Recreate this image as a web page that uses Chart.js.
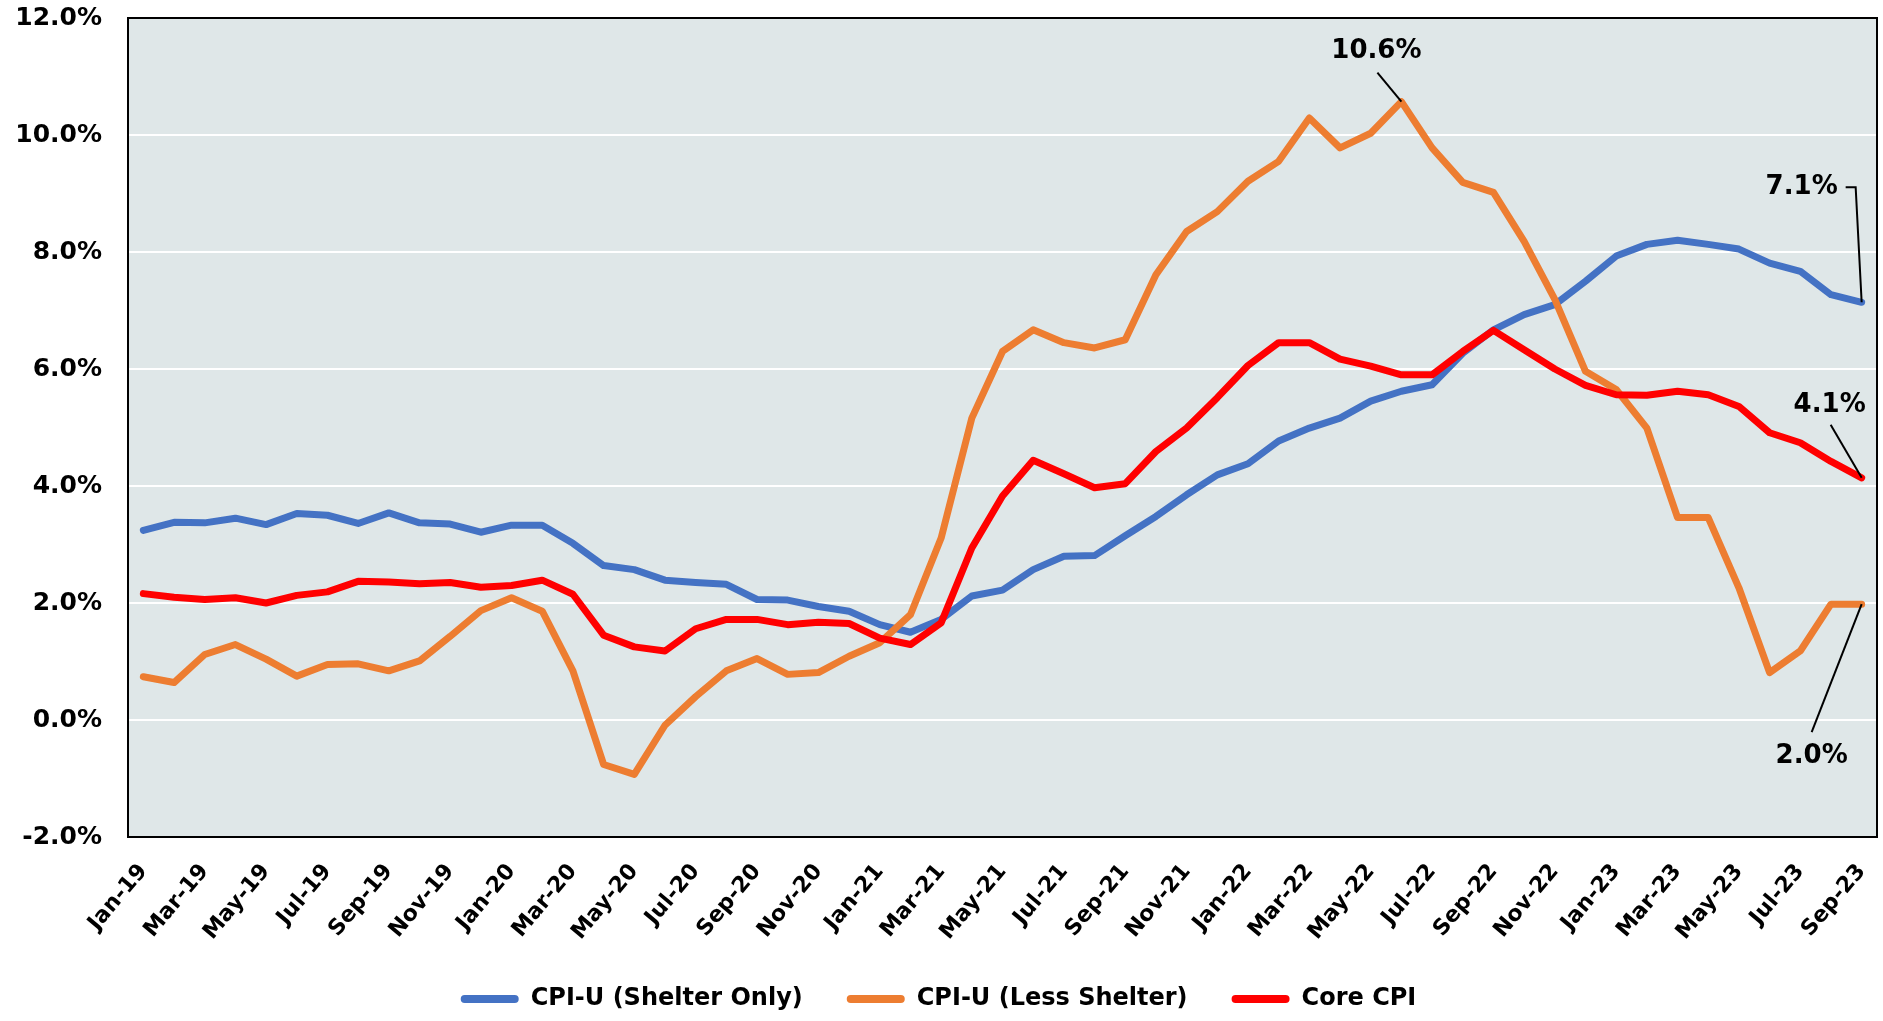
<!DOCTYPE html>
<html lang="en">
<head>
    <meta charset="UTF-8">
    <title>CPI-U Shelter vs Less Shelter vs Core CPI</title>
    <script src="https://cdn.jsdelivr.net/npm/chart.js"></script>
    <style>
        body {
            margin: 0;
            background: #ffffff;
        }
        .wrap {
            width: 1883px;
            height: 1021px;
            position: relative;
        }
    </style>
</head>
<body>
    <div class="wrap">
        <canvas id="cpiChart"></canvas>
    </div>

    <script>
        const months = [
            'Jan-19', 'Feb-19', 'Mar-19', 'Apr-19', 'May-19', 'Jun-19', 'Jul-19', 'Aug-19', 'Sep-19', 'Oct-19', 'Nov-19', 'Dec-19',
            'Jan-20', 'Feb-20', 'Mar-20', 'Apr-20', 'May-20', 'Jun-20', 'Jul-20', 'Aug-20', 'Sep-20', 'Oct-20', 'Nov-20', 'Dec-20',
            'Jan-21', 'Feb-21', 'Mar-21', 'Apr-21', 'May-21', 'Jun-21', 'Jul-21', 'Aug-21', 'Sep-21', 'Oct-21', 'Nov-21', 'Dec-21',
            'Jan-22', 'Feb-22', 'Mar-22', 'Apr-22', 'May-22', 'Jun-22', 'Jul-22', 'Aug-22', 'Sep-22', 'Oct-22', 'Nov-22', 'Dec-22',
            'Jan-23', 'Feb-23', 'Mar-23', 'Apr-23', 'May-23', 'Jun-23', 'Jul-23', 'Aug-23', 'Sep-23'
        ];

        // year-over-year % change
        const shelterOnly = [
            3.24, 3.38, 3.37, 3.45, 3.34, 3.53, 3.50, 3.36, 3.54, 3.37, 3.35, 3.21,
            3.33, 3.33, 3.02, 2.64, 2.57, 2.39, 2.35, 2.32, 2.06, 2.05, 1.94, 1.86,
            1.63, 1.50, 1.72, 2.12, 2.22, 2.57, 2.80, 2.81, 3.15, 3.48, 3.85, 4.19,
            4.38, 4.77, 4.99, 5.16, 5.45, 5.62, 5.73, 6.27, 6.67, 6.93, 7.10, 7.50,
            7.93, 8.13, 8.20, 8.13, 8.05, 7.81, 7.67, 7.27, 7.14
        ];
        const lessShelter = [
            0.74, 0.64, 1.12, 1.29, 1.04, 0.75, 0.95, 0.96, 0.84, 1.01, 1.43, 1.87,
            2.09, 1.86, 0.84, -0.76, -0.93, -0.09, 0.40, 0.84, 1.05, 0.78, 0.81, 1.09,
            1.32, 1.80, 3.11, 5.16, 6.30, 6.67, 6.45, 6.36, 6.50, 7.61, 8.35, 8.69,
            9.21, 9.55, 10.29, 9.78, 10.03, 10.57, 9.78, 9.19, 9.02, 8.18, 7.19, 5.96,
            5.65, 4.99, 3.46, 3.46, 2.26, 0.81, 1.18, 1.98, 1.98
        ];
        const coreCpi = [
            2.16, 2.10, 2.06, 2.09, 2.00, 2.13, 2.19, 2.37, 2.36, 2.33, 2.35, 2.27,
            2.30, 2.39, 2.15, 1.45, 1.25, 1.18, 1.56, 1.72, 1.72, 1.63, 1.67, 1.65,
            1.40, 1.29, 1.66, 2.94, 3.83, 4.44, 4.21, 3.97, 4.04, 4.59, 4.99, 5.51,
            6.06, 6.45, 6.45, 6.17, 6.05, 5.90, 5.90, 6.30, 6.66, 6.33, 6.00, 5.72,
            5.56, 5.55, 5.62, 5.56, 5.36, 4.91, 4.74, 4.42, 4.14
        ];

        const yTicks = { min: -2, max: 12, step: 2 };

        // callouts: dataset, point index, label, text offset and leader path (px from the point)
        const callouts = [
            { ds: 1, idx: 41, text: '10.6%', tx: -25, ty: -50, path: [[-24, -29], [0, 0]] },
            { ds: 0, idx: 56, text: '7.1%', tx: -60, ty: -115, path: [[-16, -115], [-6, -115], [0, 0]] },
            { ds: 2, idx: 56, text: '4.1%', tx: -32, ty: -73, path: [[-31, -53], [0, 0]] },
            { ds: 1, idx: 56, text: '2.0%', tx: -50, ty: 152, path: [[-50, 128], [0, 0]] }
        ];

        const FONT = '"DejaVu Sans", Verdana, sans-serif';

        const plotFrame = {
            id: 'plotFrame',
            beforeDraw(chart) {
                const { ctx, chartArea: a } = chart;
                ctx.save();
                ctx.fillStyle = '#dfe7e8';
                ctx.fillRect(a.left, a.top, a.right - a.left, a.bottom - a.top);
                ctx.restore();
            },
            afterDraw(chart) {
                const { ctx, chartArea: a } = chart;
                ctx.save();
                ctx.strokeStyle = '#000';
                ctx.lineWidth = 2;
                ctx.strokeRect(a.left, a.top, a.right - a.left, a.bottom - a.top);

                ctx.font = 'bold 26px ' + FONT;
                ctx.textAlign = 'center';
                ctx.textBaseline = 'middle';
                ctx.fillStyle = '#000';
                ctx.lineWidth = 2;
                callouts.forEach(c => {
                    const pt = chart.getDatasetMeta(c.ds).data[c.idx];
                    ctx.beginPath();
                    c.path.forEach((p, i) => {
                        if (i === 0) ctx.moveTo(pt.x + p[0], pt.y + p[1]);
                        else ctx.lineTo(pt.x + p[0], pt.y + p[1]);
                    });
                    ctx.stroke();
                    ctx.fillText(c.text, pt.x + c.tx, pt.y + c.ty);
                });
                ctx.restore();
            }
        };

        const lineStyle = color => ({
            borderColor: color,
            backgroundColor: color,
            borderWidth: 7,
            pointRadius: 0,
            tension: 0,
            borderCapStyle: 'round',
            borderJoinStyle: 'round',
            fill: false
        });

        new Chart(document.getElementById('cpiChart'), {
            type: 'line',
            data: {
                labels: months,
                datasets: [
                    { label: 'CPI-U (Shelter Only)', data: shelterOnly, order: 3, ...lineStyle('#4472c4') },
                    { label: 'CPI-U (Less Shelter)', data: lessShelter, order: 2, ...lineStyle('#ed7d31') },
                    { label: 'Core CPI', data: coreCpi, order: 1, ...lineStyle('#ff0000') }
                ]
            },
            options: {
                responsive: true,
                maintainAspectRatio: false,
                animation: false,
                layout: { padding: { top: 18, right: 6, left: 0, bottom: 0 } },
                scales: {
                    x: {
                        offset: true,
                        grid: { display: false, drawTicks: false },
                        border: { display: true, color: '#000', width: 2 },
                        ticks: {
                            autoSkip: false,
                            minRotation: 50,
                            maxRotation: 50,
                            padding: 22,
                            color: '#000',
                            font: { family: FONT, size: 22, weight: 'bold' },
                            callback: (v, i) => (i % 2 === 0 ? months[i] : '')
                        },
                        afterFit: scale => {
                            scale.height = 106;
                            scale.paddingLeft = 0;
                            scale.paddingRight = 0;
                        }
                    },
                    y: {
                        min: yTicks.min,
                        max: yTicks.max,
                        grid: { color: '#ffffff', lineWidth: 2, drawTicks: false },
                        border: { display: true, color: '#000', width: 2 },
                        ticks: {
                            stepSize: yTicks.step,
                            padding: 26,
                            color: '#000',
                            font: { family: FONT, size: 25, weight: 'bold' },
                            callback: v => v.toFixed(1) + '%'
                        },
                        afterFit: scale => {
                            scale.width = 128;
                            scale.paddingTop = 0;
                            scale.paddingBottom = 0;
                        }
                    }
                },
                plugins: {
                    tooltip: { enabled: false },
                    legend: {
                        position: 'bottom',
                        labels: {
                            color: '#000',
                            font: { family: FONT, size: 24, weight: 'bold' },
                            boxWidth: 58,
                            boxHeight: 8,
                            padding: 44,
                            useBorderRadius: true,
                            borderRadius: 4,
                            sort: (a, b) => a.datasetIndex - b.datasetIndex,
                            generateLabels: chart =>
                                Chart.defaults.plugins.legend.labels.generateLabels(chart)
                                    .map(l => ({ ...l, lineWidth: 0 }))
                        }
                    }
                }
            },
            plugins: [plotFrame]
        });
    </script>
</body>
</html>
